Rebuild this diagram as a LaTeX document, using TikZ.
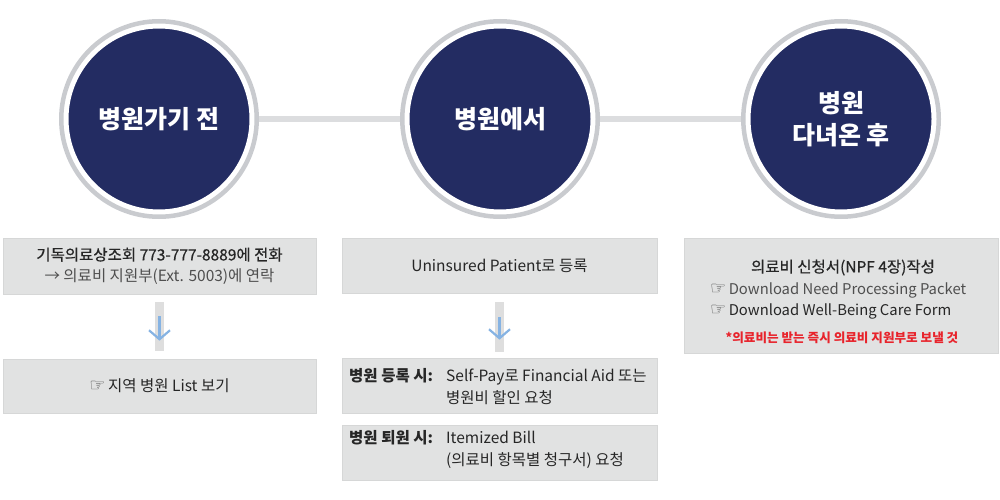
\documentclass[tikz,border=0pt]{standalone}
\usepackage{fontspec}
\setmainfont{Noto Sans CJK KR}
\newfontfamily\medf{Noto Sans CJK KR}[FakeBold=0.6]
\newfontfamily\symf{DejaVu Sans}
\usetikzlibrary{arrows.meta}
\definecolor{navy}{HTML}{232C62}
\definecolor{ringgray}{HTML}{C9CBCF}
\definecolor{linegray}{HTML}{DCDDDF}
\definecolor{boxfill}{HTML}{E1E2E2}
\definecolor{boxedge}{HTML}{D6D7D7}
\definecolor{txt}{HTML}{262626}
\definecolor{txtl}{HTML}{4F4F4F}
\definecolor{arrowblue}{HTML}{86B3E3}
\definecolor{barfill}{HTML}{DEDEDE}
\definecolor{redtxt}{HTML}{E8232B}
\tikzset{
 stage/.style={circle, fill=navy, draw=white, line width=7pt, minimum size=188pt, inner sep=0pt, text=white, font=\fontsize{25}{32}\selectfont\bfseries, align=center},
 ring/.style={draw=ringgray, line width=4.5pt},
 link/.style={draw=linegray, line width=5pt},
 box/.style={rectangle, fill=boxfill, draw=boxedge, line width=0.6pt, inner sep=0pt, align=center},
 btext/.style={font=\fontsize{15.5}{21}\selectfont, text=txt, align=center, inner sep=0pt},
 ltext/.style={font=\fontsize{15.5}{22}\selectfont, text=txt, align=left, inner sep=0pt, anchor=west},
 bar/.style={draw=barfill, line width=8.5pt},
 down/.style={draw=arrowblue, line width=2.2pt, -{Straight Barb[length=9pt,width=21pt]}},
}
\newcommand{\hnd}{{\symf\fontsize{18}{18}\selectfont\color{txtl}☞}}
\begin{document}
\begin{tikzpicture}[x=1pt,y=-1pt]
\useasboundingbox (0,0) rectangle (1000,500);
% stages
\node[stage] (c1) at (159,119) {병원가기 전};
\node[stage] (c2) at (500,119) {병원에서};
\node[stage] (c3) at (841,119) {병원\\다녀온 후};
\draw[link] (c1) -- (c2);
\draw[link] (c2) -- (c3);
\foreach \c in {c1,c2,c3} \draw[ring] (\c.center) circle[radius=97.75];
% left column
\node[box, minimum width=313, minimum height=56, btext] (l1) at (159.5,266)
  {{\medf\color{txt}기독의료상조회 773-777-8889에 전화}\\{\color{txtl}→ 의료비 지원부(Ext. 5003)에 연락}};
\node[box, minimum width=313, minimum height=54, btext] (l2) at (159.5,386)
  {\hnd\,지역 병원 List 보기};
\draw[bar, shorten <=8pt, shorten >=8pt] (l1) -- (l2);
\draw[down, shorten <=22pt, shorten >=18pt] (l1) -- (l2);
% middle column
\node[box, minimum width=315, minimum height=55, btext] (m1) at (499.5,265.5)
  {Uninsured Patient로 등록};
\node[box, minimum width=315, minimum height=55] (m2) at (499.5,385.5) {};
\node[box, minimum width=315, minimum height=55] (m3) at (499.5,452.5) {};
\draw[bar, shorten <=9pt, shorten >=6pt] (m1) -- (m2);
\draw[down, shorten <=24pt, shorten >=18pt] (m1) -- (m2);
\node[ltext, font=\fontsize{15.5}{22}\selectfont\bfseries, anchor=north west] (m2a) at (349,368.5) {병원 등록 시:};
\node[ltext, anchor=north west] (m2b) at (446,368.5) {Self-Pay로 Financial Aid 또는\\병원비 할인 요청};
\node[ltext, font=\fontsize{15.5}{22}\selectfont\bfseries, anchor=north west] (m3a) at (349,430.5) {병원 퇴원 시:};
\node[ltext, anchor=north west] (m3b) at (446,430.5) {Itemized Bill\\(의료비 항목별 청구서) 요청};
% right column
\node[box, minimum width=314, minimum height=115] (r1) at (841,295.5) {};
\node[btext, font=\medf\fontsize{15.5}{21}\selectfont] (r1a) at (843,267.5) {의료비 신청서(NPF 4장)작성};
\node[ltext, font=\fontsize{14.8}{21}\selectfont, text=txtl] (r1b) at (710,290)
  {\hnd\,Download Need Processing Packet};
\node[ltext, font=\fontsize{14.8}{21}\selectfont, text=txt] (r1c) at (710,311)
  {\hnd\,Download Well-Being Care Form};
\node[btext, font=\fontsize{12.6}{14}\selectfont\bfseries, text=redtxt] (r1d) at (842,337.5) {*의료비는 받는 즉시 의료비 지원부로 보낼 것};
\end{tikzpicture}
\end{document}
